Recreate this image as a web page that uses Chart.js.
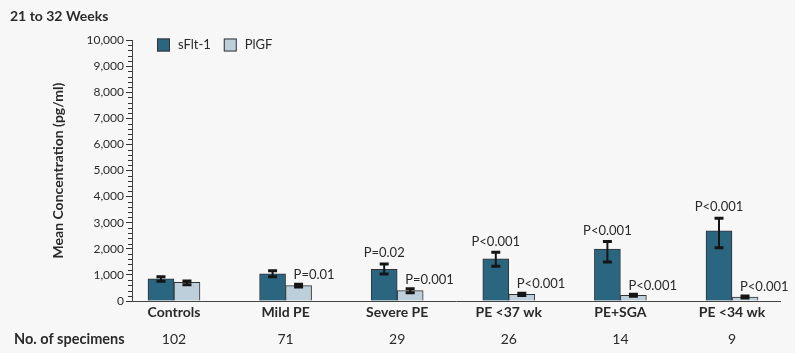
<!DOCTYPE html>
<html>
<head>
<meta charset="utf-8">
<script src="https://cdn.jsdelivr.net/npm/chart.js@4/dist/chart.umd.min.js"></script>
<style>
  html, body { margin: 0; padding: 0; background: #f7f7f7; }
  #wrap { width: 795px; height: 353px; }
</style>
</head>
<body>
<div id="wrap"><canvas id="c" width="795" height="353"></canvas></div>
<script>
// Serum sFlt-1 and PlGF, 21 to 32 weeks of gestation
const groups = ['Controls', 'Mild PE', 'Severe PE', 'PE <37 wk', 'PE+SGA', 'PE <34 wk'];
const specimens = [102, 71, 29, 26, 14, 9];

const sflt = [845, 1045, 1215, 1620, 1990, 2690];
const sfltHigh = [930, 1160, 1415, 1865, 2275, 3170];
const sfltLow = [755, 930, 1035, 1330, 1495, 2040];
const sfltP = ['', '', 'P=0.02', 'P<0.001', 'P<0.001', 'P<0.001'];

const plgf = [715, 590, 400, 255, 215, 150];
const plgfHigh = [765, 640, 470, 300, 255, 190];
const plgfLow = [625, 540, 320, 215, 180, 115];
const plgfP = ['', 'P=0.01', 'P=0.001', 'P<0.001', 'P<0.001', 'P<0.001'];

const yTicks = [0, 1000, 2000, 3000, 4000, 5000, 6000, 7000, 8000, 9000, 10000];

const FONT = 'Lato, "Open Sans", sans-serif';
const INK = '#2a2a2a';
const DARK = '#2b6680';
const LIGHT = '#bccfdb';

const groupTicks = groups.map((g, i) => ({ value: i }));

// error bars with caps, plus the P-value notes above them
const errorBars = {
  id: 'errorBars',
  afterDatasetsDraw(chart) {
    const ctx = chart.ctx;
    const y = chart.scales.y;
    const sets = [
      { hi: sfltHigh, lo: sfltLow, p: sfltP, align: 'center' },
      { hi: plgfHigh, lo: plgfLow, p: plgfP, align: 'left' }
    ];
    sets.forEach((s, d) => {
      const meta = chart.getDatasetMeta(d);
      meta.data.forEach((bar, i) => {
        const top = y.getPixelForValue(s.hi[i]);
        const bot = y.getPixelForValue(s.lo[i]);
        ctx.save();
        ctx.strokeStyle = '#151515';
        ctx.lineWidth = 2;
        ctx.beginPath();
        ctx.moveTo(bar.x, top); ctx.lineTo(bar.x, bot);
        ctx.stroke();
        ctx.lineWidth = 3;
        ctx.beginPath();
        ctx.moveTo(bar.x - 4.5, top); ctx.lineTo(bar.x + 4.5, top);
        ctx.moveTo(bar.x - 4.5, bot); ctx.lineTo(bar.x + 4.5, bot);
        ctx.stroke();
        if (s.p[i]) {
          ctx.fillStyle = INK;
          ctx.font = '13px ' + FONT;
          ctx.textBaseline = 'middle';
          if (s.align === 'center') {
            ctx.textAlign = 'center';
            ctx.fillText(s.p[i], bar.x, top - 11);
          } else {
            ctx.textAlign = 'left';
            ctx.fillText(s.p[i], bar.x - 5, top - 9);
          }
        }
        ctx.restore();
      });
    });
  }
};

const extras = {
  id: 'extras',
  beforeDraw(chart) {
    const ctx = chart.ctx;
    ctx.save();
    ctx.fillStyle = '#f7f7f7';
    ctx.fillRect(0, 0, chart.width, chart.height);
    ctx.restore();
  },
  afterDraw(chart) {
    const ctx = chart.ctx;
    const y = chart.scales.y;
    const area = chart.chartArea;
    ctx.save();
    // minor ticks every 200 pg/ml
    ctx.strokeStyle = '#333';
    ctx.lineWidth = 1;
    ctx.beginPath();
    for (let v = 200; v < 10000; v += 200) {
      if (v % 1000 === 0) continue;
      const py = Math.round(y.getPixelForValue(v)) + 0.5;
      ctx.moveTo(area.left - 4, py); ctx.lineTo(area.left, py);
    }
    ctx.stroke();

    // legend
    const items = [['sFlt-1', DARK], ['PlGF', LIGHT]];
    let lx = area.left + 25;
    const ly = area.top + 5;
    ctx.font = '13px ' + FONT;
    ctx.textBaseline = 'middle';
    ctx.textAlign = 'left';
    items.forEach(([label, color]) => {
      ctx.fillStyle = color;
      ctx.fillRect(lx, ly - 6.5, 13, 13);
      ctx.strokeStyle = '#333';
      ctx.strokeRect(lx + 0.5, ly - 6, 12, 12);
      ctx.fillStyle = INK;
      ctx.fillText(label, lx + 21, ly);
      lx += 21 + ctx.measureText(label).width + 13;
    });

    // row caption for the specimen counts
    const x2 = chart.scales.x2;
    ctx.font = 'bold 14.5px ' + FONT;
    ctx.fillStyle = INK;
    ctx.fillText('No. of specimens', 14, x2.top + 8 + 8);
    ctx.restore();
  }
};

new Chart(document.getElementById('c'), {
  type: 'bar',
  data: {
    datasets: [
      {
        label: 'sFlt-1',
        data: sflt.map((v, i) => ({ x: i, y: v })),
        backgroundColor: DARK,
        borderColor: '#333',
        borderWidth: 1,
        barThickness: 26
      },
      {
        label: 'PlGF',
        data: plgf.map((v, i) => ({ x: i, y: v })),
        backgroundColor: LIGHT,
        borderColor: '#333',
        borderWidth: 1,
        barThickness: 26
      }
    ]
  },
  options: {
    responsive: false,
    animation: false,
    layout: { padding: { left: 10, right: 15, top: 0, bottom: 0 } },
    plugins: {
      legend: { display: false },
      tooltip: { enabled: false },
      title: {
        display: true,
        text: '21 to 32 Weeks',
        align: 'start',
        color: INK,
        font: { family: FONT, size: 14, weight: 'bold' },
        padding: { top: 8, bottom: 15.2 }
      }
    },
    scales: {
      x: {
        type: 'linear',
        offset: false,
        min: -0.376,
        max: 5.43,
        afterBuildTicks: s => { s.ticks = groupTicks.map(t => ({ value: t.value })); },
        afterFit: s => { s.height = 22; },
        ticks: {
          callback: v => groups[v],
          color: INK,
          font: { family: FONT, size: 14, weight: 'bold' },
          padding: 3,
          maxRotation: 0,
          autoSkip: false
        },
        grid: { display: false, drawTicks: false },
        border: { display: true, color: '#444', width: 1 }
      },
      x2: {
        type: 'linear',
        position: 'bottom',
        offset: false,
        min: -0.376,
        max: 5.43,
        afterBuildTicks: s => { s.ticks = groupTicks.map(t => ({ value: t.value })); },
        afterFit: s => { s.height = 30; },
        ticks: {
          callback: v => String(specimens[v]),
          color: INK,
          font: { family: FONT, size: 14 },
          padding: 8,
          maxRotation: 0,
          autoSkip: false
        },
        grid: { display: false, drawTicks: false },
        border: { display: false }
      },
      y: {
        min: 0,
        max: 10000,
        afterBuildTicks: s => { s.ticks = yTicks.map(v => ({ value: v })); },
        afterFit: s => { s.width = 122; },
        ticks: {
          callback: v => v.toLocaleString('en-US'),
          color: INK,
          font: { family: FONT, size: 12 },
          padding: 2
        },
        grid: { drawOnChartArea: false, drawTicks: true, tickLength: 6, tickColor: '#333' },
        border: { display: true, color: '#444', width: 1 },
        title: {
          display: true,
          text: 'Mean Concentration (pg/ml)',
          color: INK,
          font: { family: FONT, size: 14, weight: 'bold' },
          padding: { top: 40, bottom: 0 }
        }
      }
    }
  },
  plugins: [extras, errorBars]
});
</script>
</body>
</html>
